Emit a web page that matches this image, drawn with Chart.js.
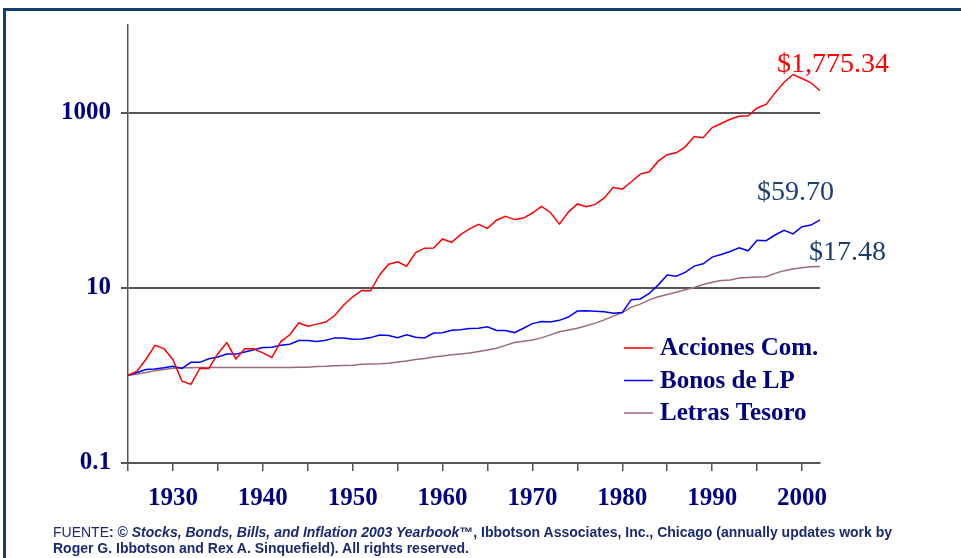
<!DOCTYPE html>
<html>
<head>
<meta charset="utf-8">
<script src="https://cdn.jsdelivr.net/npm/chart.js@4.4.0/dist/chart.umd.min.js"></script>
<style>
  body { margin: 0; background: #fff; overflow: hidden; }
  #wrap { position: relative; width: 961px; height: 558px; }
  #frame { position: absolute; left: 3px; top: 8px; width: 1000px; height: 600px; border: 3px solid #143e6e; box-sizing: border-box; }
  #note { position: absolute; left: 53px; top: 524px; font-family: "Liberation Sans", Arial, sans-serif; font-size: 14px; line-height: 16px; color: #1a2a70; font-weight: bold; }
  #note .r { font-weight: normal; }
  canvas { position: absolute; left: 0; top: 0; }
</style>
</head>
<body>
<div id="wrap">
  <div id="frame"></div>
  <canvas id="mycanvas" width="961" height="558"></canvas>
  <div id="note"><span class="r">FUENTE</span>: © <i>Stocks, Bonds, Bills, and Inflation 2003 Yearbook</i>™, Ibbotson Associates, Inc., Chicago (annually updates work by<br>Roger G. Ibbotson and Rex A. Sinquefield). All rights reserved.</div>
</div>
<script>
var years = [];
for (var y = 1925; y <= 2002; y++) years.push(y);

var stocks = [1.00, 1.12, 1.53, 2.20, 2.02, 1.52, 0.86, 0.79, 1.21, 1.20,
  1.77, 2.37, 1.54, 2.02, 2.01, 1.81, 1.60, 2.43, 2.91, 3.97,
  3.65, 3.85, 4.07, 4.83, 6.36, 7.89, 9.34, 9.24, 14.11, 18.56,
  19.78, 17.65, 25.30, 28.32, 28.46, 36.11, 32.95, 40.47, 47.14, 53.01,
  47.67, 59.10, 65.64, 60.06, 62.47, 71.41, 84.96, 72.50, 53.31, 73.14,
  90.58, 84.08, 89.59, 106.11, 140.51, 133.62, 162.22, 198.75, 211.20, 279.12,
  330.67, 347.97, 406.46, 534.46, 517.50, 675.59, 750, 840, 910, 920,
  1130, 1240, 1680, 2220, 2720, 2450, 2190, 1775.34];

var bonds = [1.00, 1.08, 1.17, 1.18, 1.22, 1.27, 1.20, 1.41, 1.41, 1.55,
  1.62, 1.75, 1.75, 1.85, 1.96, 2.08, 2.10, 2.21, 2.27, 2.50,
  2.51, 2.44, 2.52, 2.68, 2.68, 2.58, 2.61, 2.70, 2.89, 2.86,
  2.70, 2.91, 2.73, 2.68, 3.04, 3.07, 3.28, 3.32, 3.44, 3.46,
  3.59, 3.26, 3.25, 3.08, 3.45, 3.90, 4.12, 4.07, 4.25, 4.64,
  5.42, 5.46, 5.40, 5.33, 5.13, 5.22, 7.32, 7.46, 8.61, 10.8,
  13.97, 13.59, 14.97, 17.68, 18.78, 22.40, 24.0, 26.0, 28.64, 26.46,
  34.84, 34.53, 40.04, 45.29, 41.22, 49.82, 51.98, 59.70];

var bills = [1.00, 1.04, 1.08, 1.13, 1.17, 1.21, 1.22, 1.225, 1.228, 1.23,
  1.23, 1.23, 1.232, 1.232, 1.232, 1.232, 1.233, 1.233, 1.234, 1.235,
  1.24, 1.26, 1.27, 1.29, 1.30, 1.31, 1.34, 1.35, 1.36, 1.38,
  1.42, 1.46, 1.52, 1.56, 1.62, 1.67, 1.72, 1.76, 1.80, 1.87,
  1.95, 2.04, 2.20, 2.37, 2.45, 2.54, 2.68, 2.90, 3.15, 3.30,
  3.46, 3.68, 3.95, 4.30, 4.75, 5.22, 6.02, 6.51, 7.29, 7.90,
  8.40, 8.90, 9.50, 10.1, 10.9, 11.6, 12.1, 12.3, 12.9, 13.1,
  13.3, 13.4, 14.6, 15.7, 16.4, 16.9, 17.4, 17.48];

var seriesNames = ['Acciones Com.', 'Bonos de LP', 'Letras Tesoro'];
var seriesColors = ['#ff0000', '#0000ff', '#9c6a7a'];
var endLabels = ['$1,775.34', '$59.70', '$17.48'];
var endColors = ['#ff0000', '#1c3f6e', '#1c3f6e'];
var yTicks = [0.1, 10, 1000];

function pts(arr) {
  return arr.map(function(v, i) { return { x: years[i], y: v }; });
}

var serif = '"Liberation Serif", "Times New Roman", serif';

// legend + end values drawn on the canvas
var extras = {
  id: 'extras',
  afterDatasetsDraw: function(chart) {
    var ctx = chart.ctx;
    ctx.save();
    // end labels
    var offs = [[-43, -26], [-63, -27], [-11, -14]];
    chart.data.datasets.forEach(function(ds, i) {
      var meta = chart.getDatasetMeta(i);
      var last = meta.data[meta.data.length - 1];
      ctx.font = '28px ' + serif;
      ctx.fillStyle = endColors[i];
      ctx.textBaseline = 'middle';
      ctx.textAlign = 'left';
      ctx.fillText(endLabels[i], last.x + offs[i][0], last.y + offs[i][1]);
    });
    // legend
    var lx = 624, ly = 348, gap = 32.5;
    chart.data.datasets.forEach(function(ds, i) {
      var yy = ly + i * gap;
      ctx.strokeStyle = ds.borderColor;
      ctx.lineWidth = 1.5;
      ctx.beginPath();
      ctx.moveTo(lx, yy);
      ctx.lineTo(lx + 29, yy);
      ctx.stroke();
      ctx.font = 'bold 25px ' + serif;
      ctx.fillStyle = '#000080';
      ctx.textBaseline = 'middle';
      ctx.fillText(ds.label, lx + 36, yy + 1);
    });
    ctx.restore();
  }
};

var ctx = document.getElementById('mycanvas');

var chart = new Chart(ctx, {
  type: 'line',
  data: {
    datasets: [
      { label: seriesNames[0], data: pts(stocks), borderColor: seriesColors[0], borderWidth: 1.5, pointRadius: 0, tension: 0 },
      { label: seriesNames[1], data: pts(bonds), borderColor: seriesColors[1], borderWidth: 1.5, pointRadius: 0, tension: 0 },
      { label: seriesNames[2], data: pts(bills), borderColor: seriesColors[2], borderWidth: 1.5, pointRadius: 0, tension: 0 }
    ]
  },
  options: {
    responsive: false,
    animation: false,
    events: [],
    layout: { padding: { left: 0, top: 25, right: 141, bottom: 0 } },
    plugins: { legend: { display: false }, tooltip: { enabled: false } },
    scales: {
      x: {
        type: 'linear',
        min: 1925,
        max: 2002,
        afterFit: function(s) { s.height = 95; },
        grid: { drawOnChartArea: false, color: '#555', lineWidth: 1.5, tickLength: 8 },
        border: { color: '#555', width: 2 },
        ticks: {
          stepSize: 5,
          includeBounds: false,
          autoSkip: false,
          maxRotation: 0,
          minRotation: 0,
          padding: 13,
          color: '#000080',
          font: { family: serif, size: 25, weight: 'bold' },
          callback: function(v) { return v % 10 === 0 ? String(v) : ''; }
        }
      },
      y: {
        type: 'logarithmic',
        min: 0.1,
        max: 10000,
        afterFit: function(s) { s.width = 128; },
        afterBuildTicks: function(s) { s.ticks = yTicks.map(function(v) { return { value: v }; }); },
        grid: { color: '#555', lineWidth: 2, tickLength: 7 },
        border: { color: '#555', width: 1.5 },
        ticks: {
          padding: 10,
          color: '#000080',
          font: { family: serif, size: 25, weight: 'bold' },
          callback: function(v) { return String(v); }
        }
      }
    }
  },
  plugins: [extras]
});
</script>
</body>
</html>
